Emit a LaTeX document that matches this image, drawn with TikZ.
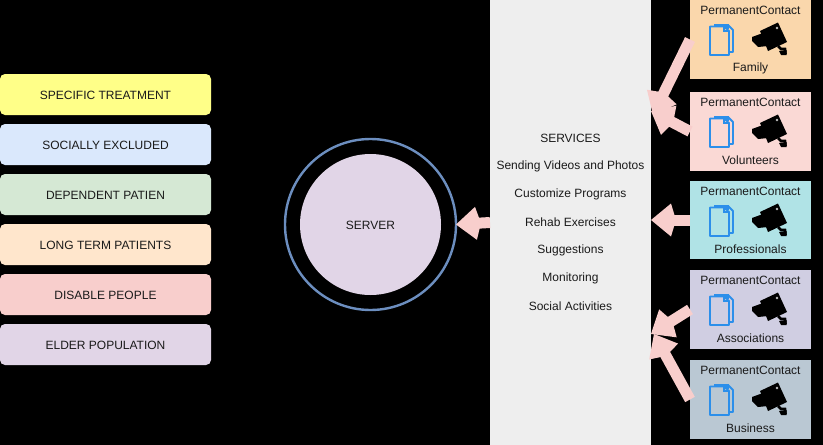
\documentclass[tikz,border=0pt]{standalone}
\usepackage{fontspec}
\setmainfont{Liberation Sans}
\usetikzlibrary{arrows.meta}
\definecolor{ink}{HTML}{1A1A1A}
\definecolor{docblue}{HTML}{2C8FEA}
\definecolor{arrowpink}{HTML}{F8CECC}
\definecolor{ringblue}{HTML}{6C8EBF}
\definecolor{srv}{HTML}{E1D5E7}
\definecolor{panel}{HTML}{EEEEEE}
\tikzset{
  x=1pt,y=-1pt,
  every node/.style={font=\fontsize{12}{14}\selectfont,text=ink,inner sep=0pt,outer sep=0pt},
  groupbox/.style={rectangle,rounded corners=5pt,minimum width=211pt,minimum height=41pt,anchor=north west},
  contactbox/.style={rectangle,minimum width=121pt,minimum height=79pt,anchor=north west},
  blockarrow/.style={draw=arrowpink,line width=11pt,-{Kite[length=25pt,width=33pt,inset=5pt]}},
  pics/docicon/.style={code={
    \draw[docblue,line width=1.8pt,line join=round] (24,25) -- (38,25) -- (43,30) -- (43,52) -- (39,52);
    \fill[docblue] (35,24) rectangle (39,29);
    \draw[docblue,line width=1.8pt,line join=round] (20,26.5) -- (34,26.5) -- (39,31) -- (39,55) -- (20,55) -- cycle;
    \draw[docblue,line width=1.2pt] (34,26.5) -- (34,31) -- (39,31);
  }},
  pics/camicon/.style={code={
    \fill[black] (70,31) -- (88,22.5) -- (97,42) -- (78,51) -- cycle;
    \fill[black] (62,37) -- (73,33) -- (78,46) -- (68,47) -- (62,41) -- cycle;
    \fill[white!75!black] (87,28) circle (1.4);
    \draw[black,line width=2.6pt] (88,46) -- (91,49) -- (95,49) -- (95.5,54);
    \fill[black] (89,51) -- (96.5,50) -- (96.5,55) -- (91,55) -- cycle;
  }}
}
\begin{document}
\begin{tikzpicture}
\useasboundingbox (0,0) rectangle (823,445);
\fill[black] (0,0) rectangle (823,445);
% groups on the left
\foreach \n/\t/\c/\l in {
  specific/74/FFFF88/SPECIFIC TREATMENT,
  social/124/DAE8FC/SOCIALLY EXCLUDED,
  dependent/174/D5E8D4/DEPENDENT PATIEN,
  longterm/224/FFE6CC/LONG TERM PATIENTS,
  disable/274/F8CECC/DISABLE PEOPLE,
  elder/324/E1D5E7/ELDER POPULATION}{
  \definecolor{cc}{HTML}{\c}
  \node[groupbox,fill=cc] (\n) at (0,\t) {};
  \node (\n-text) at (105.5,{\t+21}) {\l};
}
% server
\node[circle,draw=ringblue,line width=2.4pt,minimum size=171pt] (ring) at (370.5,224.5) {};
\node[circle,fill=srv,minimum size=141pt] (server) at (370.5,224.5) {};
\node at (370.5,225) {SERVER};
% services
\node[rectangle,fill=panel,minimum width=161pt,minimum height=445pt,anchor=north west] (services) at (490,0) {};
\foreach \i/\l in {0/SERVICES,1/Sending Videos and Photos,2/Customize Programs,3/Rehab Exercises,4/Suggestions,5/Monitoring,6/Social Activities}{
  \node (svc\i) at (570.5,{138.7+28*\i}) {\l};
}
% contact boxes
\foreach \n/\t/\h/\c/\l in {
  family/0/79/FAD7AC/Family,
  volunteers/92/79/FAD9D5/Volunteers,
  professionals/181/78/B0E3E6/Professionals,
  associations/270/79/D0CEE2/Associations,
  business/360/79/BAC8D3/Business}{
  \definecolor{cc}{HTML}{\c}
  \node[contactbox,fill=cc,minimum height=\h pt] (\n) at (690,\t) {};
  \node (\n-top) at (750.5,{\t+10.7}) {PermanentContact};
  \node (\n-name) at (750.5,{\t+68.7}) {\l};
  \pic at (690,\t) {docicon};
  \pic at (690,\t) {camicon};
}
% connectors
\coordinate (tipa) at (653,115);
\coordinate (tipb) at (651,111);
\coordinate (tipc) at (651,220);
\coordinate (tipd) at (651,334);
\coordinate (tipe) at (654,334);
\draw[blockarrow] (family.west) -- (tipa);
\draw[blockarrow] (volunteers.west) -- (tipb);
\draw[blockarrow] (professionals.west) -- (tipc);
\draw[blockarrow] (associations.west) -- (tipd);
\draw[blockarrow] (business.west) -- (tipe);
\draw[blockarrow] (services.west) -- (ring.east);
\end{tikzpicture}
\end{document}
